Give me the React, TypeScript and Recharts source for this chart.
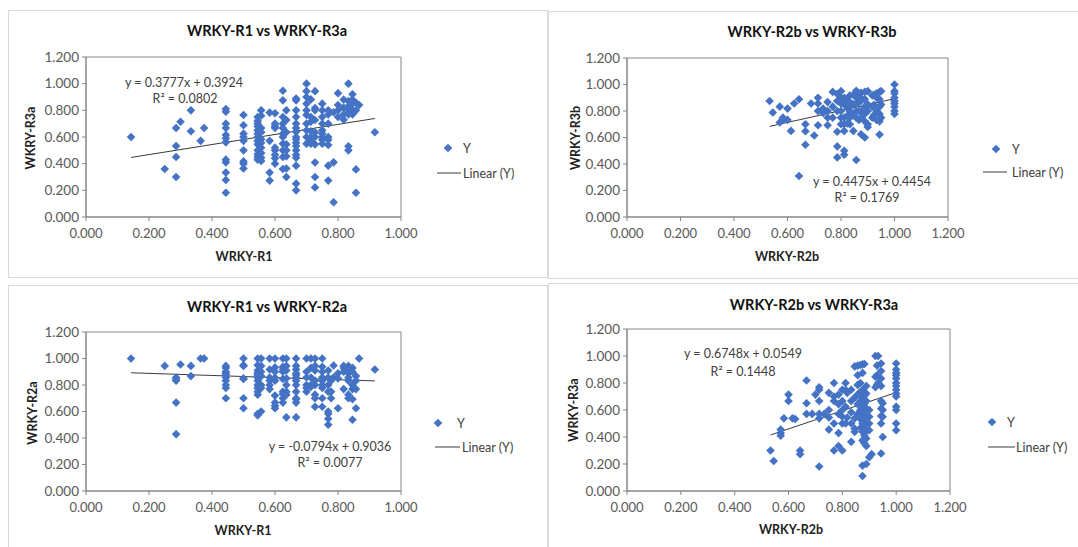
import React from 'react';
import { ScatterChart, Scatter, XAxis, YAxis, ReferenceLine, ReferenceArea } from 'recharts';

const FONT = "Lato, 'Liberation Sans', Arial, sans-serif";
const BLUE = '#4472C4';

// tick labels
const xTicksR1 = [0, 0.2, 0.4, 0.6, 0.8, 1.0];
const xTicksR2b = [0, 0.2, 0.4, 0.6, 0.8, 1.0, 1.2];
const yTicks = [0, 0.2, 0.4, 0.6, 0.8, 1.0, 1.2];

// chart text
const titles = ['WRKY-R1 vs WRKY-R3a', 'WRKY-R2b vs WRKY-R3b', 'WRKY-R1 vs WRKY-R2a', 'WRKY-R2b vs WRKY-R3a'];
const xLabels = ['WRKY-R1', 'WRKY-R2b', 'WRKY-R1', 'WRKY-R2b'];
const yLabels = ['WKRY-R3a', 'WRKY-R3b', 'WRKY-R2a', 'WRKY-R3a'];

// linear trend lines
const slopes = [0.3777, 0.4475, -0.0794, 0.6748];
const intercepts = [0.3924, 0.4454, 0.9036, 0.0549];
const r2Values = ['0.0802', '0.1769', '0.0077', '0.1448'];

type Col = [number, number[]];

// x value -> y values
const r1VsR3a: Col[] = [
  [0.143, [0.6]],
  [0.25, [0.36]],
  [0.286, [0.667, 0.533, 0.45, 0.3]],
  [0.3, [0.714]],
  [0.333, [0.8, 0.643]],
  [0.364, [0.571]],
  [0.375, [0.667]],
  [0.444, [0.81, 0.79, 0.7, 0.667, 0.615, 0.59, 0.56, 0.43, 0.41, 0.333, 0.278, 0.182]],
  [0.5, [0.765, 0.688, 0.625, 0.6, 0.571, 0.5, 0.417, 0.4, 0.364]],
  [0.545, [0.75, 0.72, 0.7, 0.68, 0.65, 0.625, 0.6, 0.571, 0.545, 0.5, 0.47, 0.45, 0.43]],
  [0.556, [0.8, 0.76, 0.667, 0.636, 0.583, 0.556, 0.52, 0.48, 0.444, 0.42]],
  [0.583, [0.783, 0.571, 0.333, 0.273]],
  [0.6, [0.778, 0.7, 0.68, 0.667, 0.52, 0.5, 0.467, 0.44, 0.4]],
  [0.625, [0.947, 0.875, 0.75, 0.7, 0.667, 0.625, 0.6, 0.55, 0.5, 0.45, 0.36]],
  [0.636, [0.8, 0.727, 0.636, 0.545, 0.5, 0.455, 0.364, 0.3]],
  [0.667, [0.889, 0.875, 0.8, 0.75, 0.7, 0.667, 0.64, 0.6, 0.583, 0.556, 0.533, 0.5, 0.467, 0.444, 0.385, 0.25, 0.2]],
  [0.7, [1.0, 0.944, 0.9, 0.85, 0.8, 0.765, 0.7, 0.65, 0.6, 0.55]],
  [0.714, [0.882, 0.75, 0.714, 0.643, 0.6, 0.571, 0.55]],
  [0.727, [0.944, 0.818, 0.8, 0.727, 0.636, 0.6, 0.545, 0.409, 0.3, 0.222]],
  [0.75, [0.85, 0.8, 0.75, 0.7, 0.65, 0.625, 0.6, 0.58, 0.55]],
  [0.769, [0.8, 0.77, 0.7, 0.6, 0.58, 0.54, 0.385, 0.273]],
  [0.786, [0.786, 0.41, 0.111]],
  [0.8, [0.929, 0.84, 0.8, 0.75]],
  [0.818, [0.88, 0.82, 0.77, 0.73]],
  [0.833, [1.0, 0.87, 0.83, 0.8, 0.77, 0.53, 0.5]],
  [0.846, [0.92, 0.88, 0.85, 0.8, 0.77]],
  [0.857, [0.857, 0.8, 0.357, 0.182]],
  [0.867, [0.84]],
  [0.917, [0.636]],
];

const r2bVsR3b: Col[] = [
  [0.533, [0.875]],
  [0.545, [0.789]],
  [0.571, [0.833, 0.714]],
  [0.583, [0.75, 0.733]],
  [0.6, [0.818, 0.733]],
  [0.613, [0.65]],
  [0.625, [0.857]],
  [0.643, [0.889, 0.31]],
  [0.667, [0.7, 0.647, 0.545]],
  [0.688, [0.857]],
  [0.7, [0.615]],
  [0.714, [0.9, 0.857, 0.8, 0.692]],
  [0.733, [0.818, 0.786]],
  [0.75, [0.867, 0.8, 0.75, 0.692]],
  [0.769, [0.944, 0.833, 0.75]],
  [0.786, [0.929, 0.875, 0.8, 0.643, 0.533, 0.45]],
  [0.8, [0.95, 0.9, 0.857, 0.8, 0.75, 0.7]],
  [0.812, [0.9, 0.85, 0.75, 0.7, 0.65, 0.5, 0.47]],
  [0.824, [0.882, 0.824, 0.765, 0.706]],
  [0.833, [0.917, 0.867, 0.833, 0.8, 0.75, 0.7]],
  [0.846, [0.923, 0.85, 0.769, 0.65]],
  [0.857, [0.952, 0.9, 0.857, 0.8, 0.75, 0.43]],
  [0.867, [0.933, 0.867, 0.8, 0.733]],
  [0.875, [0.938, 0.9, 0.875, 0.8, 0.75, 0.625]],
  [0.889, [0.944, 0.889, 0.833, 0.778, 0.722, 0.6]],
  [0.9, [0.95, 0.85, 0.8, 0.7, 0.68]],
  [0.917, [0.917, 0.833, 0.75]],
  [0.923, [0.923, 0.846, 0.769]],
  [0.933, [0.933, 0.9, 0.8, 0.733]],
  [0.944, [0.944, 0.889, 0.833, 0.778, 0.722, 0.622]],
  [0.95, [0.95, 0.85, 0.75]],
  [1.0, [1.0, 0.95, 0.933, 0.9, 0.875, 0.857, 0.833, 0.8, 0.778]],
];

const r1VsR2a: Col[] = [
  [0.143, [1.0]],
  [0.25, [0.944]],
  [0.286, [0.857, 0.846, 0.833, 0.667, 0.429]],
  [0.3, [0.955]],
  [0.333, [0.944, 0.867]],
  [0.364, [1.0]],
  [0.375, [1.0]],
  [0.444, [0.944, 0.929, 0.9, 0.889, 0.875, 0.857, 0.833, 0.8, 0.778, 0.7]],
  [0.5, [1.0, 0.95, 0.944, 0.85, 0.846, 0.7, 0.625]],
  [0.545, [1.0, 0.95, 0.909, 0.889, 0.875, 0.857, 0.833, 0.8, 0.778, 0.75, 0.727, 0.583, 0.571]],
  [0.556, [1.0, 0.944, 0.9, 0.867, 0.8, 0.778, 0.6]],
  [0.583, [1.0, 0.917, 0.857, 0.833, 0.8, 0.769]],
  [0.6, [1.0, 0.933, 0.9, 0.857, 0.833, 0.72, 0.667, 0.643, 0.625]],
  [0.625, [1.0, 0.938, 0.917, 0.9, 0.846, 0.75, 0.733, 0.7, 0.667]],
  [0.636, [1.0, 0.944, 0.909, 0.85, 0.8, 0.75, 0.727, 0.556]],
  [0.667, [1.0, 0.944, 0.917, 0.889, 0.875, 0.857, 0.833, 0.8, 0.75, 0.7, 0.692, 0.667, 0.556]],
  [0.7, [1.0, 0.9, 0.857, 0.8, 0.778, 0.75]],
  [0.714, [1.0, 0.929, 0.857, 0.8, 0.786]],
  [0.727, [1.0, 0.944, 0.909, 0.833, 0.8, 0.727, 0.7, 0.636]],
  [0.75, [1.0, 0.938, 0.9, 0.857, 0.833, 0.8, 0.778, 0.7, 0.636]],
  [0.769, [0.909, 0.857, 0.8, 0.75, 0.6, 0.583, 0.545, 0.5]],
  [0.778, [0.833, 0.75, 0.7]],
  [0.786, [0.947, 0.857]],
  [0.8, [0.889, 0.85, 0.625]],
  [0.818, [0.944, 0.929, 0.9, 0.769]],
  [0.833, [0.944, 0.917, 0.889, 0.857, 0.833, 0.727, 0.7]],
  [0.846, [0.929, 0.9, 0.8, 0.769, 0.692, 0.538]],
  [0.857, [0.867, 0.833, 0.769, 0.625]],
  [0.867, [1.0]],
  [0.917, [0.917]],
];

const r2bVsR3a: Col[] = [
  [0.533, [0.3]],
  [0.545, [0.222]],
  [0.571, [0.455, 0.429, 0.409]],
  [0.583, [0.538]],
  [0.6, [0.714, 0.667]],
  [0.615, [0.538]],
  [0.625, [0.533]],
  [0.643, [0.3, 0.273]],
  [0.667, [0.818, 0.65, 0.571]],
  [0.688, [0.571]],
  [0.7, [0.714]],
  [0.714, [0.769, 0.75, 0.667, 0.571, 0.538, 0.182]],
  [0.733, [0.571]],
  [0.75, [0.727, 0.6, 0.545, 0.455]],
  [0.769, [0.8, 0.7, 0.667, 0.5, 0.3]],
  [0.786, [0.714, 0.643, 0.571, 0.429, 0.333]],
  [0.8, [0.75, 0.667, 0.6, 0.55, 0.5, 0.3]],
  [0.812, [0.8, 0.75, 0.625, 0.5]],
  [0.818, [0.727, 0.545]],
  [0.833, [0.75, 0.667, 0.583, 0.5, 0.364]],
  [0.846, [0.923, 0.692, 0.538, 0.462, 0.438]],
  [0.857, [0.929, 0.857, 0.786, 0.714, 0.643, 0.571]],
  [0.867, [0.933, 0.8, 0.733, 0.667, 0.6, 0.533, 0.467]],
  [0.875, [0.938, 0.875, 0.75, 0.688, 0.625, 0.563, 0.5, 0.438, 0.375, 0.188, 0.111]],
  [0.882, [0.941, 0.706, 0.647, 0.588, 0.529, 0.471, 0.412, 0.353]],
  [0.889, [0.778, 0.722, 0.667, 0.611, 0.556, 0.5, 0.444, 0.389, 0.333, 0.2]],
  [0.9, [0.6, 0.55, 0.5, 0.45, 0.25]],
  [0.909, [0.273]],
  [0.923, [1.0, 0.846, 0.769]],
  [0.929, [0.929, 0.857, 0.786]],
  [0.933, [1.0, 0.8]],
  [0.944, [0.944, 0.889, 0.833, 0.778, 0.667, 0.611, 0.556, 0.5, 0.278]],
  [0.95, [0.65, 0.6, 0.55, 0.4]],
  [1.0, [0.944, 0.9, 0.875, 0.857, 0.833, 0.8, 0.778, 0.75, 0.722, 0.7, 0.625, 0.6, 0.5, 0.45]],
];

type Layout = {
  left: number; top: number; w: number; h: number;
  plot: { l: number; t: number; r: number; b: number };
  title: [number, number]; yTitle: [number, number]; xTitle: [number, number];
  eq: [number, number]; r2: [number, number];
  legend: { dx: number; dy: number; ytx: number; lx1: number; lx2: number; ly: number; ltx: number };
};

const layouts: Layout[] = [
  {
    left: 8, top: 10, w: 540, h: 268,
    plot: { l: 78, t: 47, r: 393, b: 207 },
    title: [259, 20], yTitle: [22, 128], xTitle: [236, 246],
    eq: [176, 72], r2: [177, 88],
    legend: { dx: 440, dy: 138, ytx: 455, lx1: 429, lx2: 453, ly: 163, ltx: 455 },
  },
  {
    left: 548, top: 11, w: 540, h: 268,
    plot: { l: 79, t: 47, r: 400, b: 206 },
    title: [264, 20], yTitle: [27, 127], xTitle: [239, 245],
    eq: [324, 170], r2: [319, 186],
    legend: { dx: 448, dy: 138, ytx: 464, lx1: 435, lx2: 459, ly: 161, ltx: 464 },
  },
  {
    left: 8, top: 285, w: 540, h: 270,
    plot: { l: 78, t: 47, r: 393, b: 206 },
    title: [259, 21], yTitle: [24, 128], xTitle: [235, 245],
    eq: [322, 161], r2: [322, 177],
    legend: { dx: 430, dy: 138, ytx: 449, lx1: 427, lx2: 452, ly: 162, ltx: 454 },
  },
  {
    left: 548, top: 283, w: 540, h: 270,
    plot: { l: 79, t: 46, r: 402, b: 208 },
    title: [266, 21], yTitle: [25, 127], xTitle: [243, 246],
    eq: [195, 70], r2: [195, 88],
    legend: { dx: 444, dy: 139, ytx: 459, lx1: 440, lx2: 467, ly: 164, ltx: 468 },
  },
];

const DiamondShape = (props: any) => {
  const { cx, cy } = props;
  if (cx == null || cy == null) return null;
  const r = 4.3;
  return (
    <polygon
      points={`${cx},${cy - r} ${cx + r},${cy} ${cx},${cy + r} ${cx - r},${cy}`}
      fill={BLUE}
    />
  );
};

const centered = (x: number, y: number, extra: React.CSSProperties = {}): React.CSSProperties => ({
  position: 'absolute', left: x, top: y, transform: 'translate(-50%, -50%)', whiteSpace: 'nowrap', ...extra,
});

function Panel(props: {
  idx: number; cols: Col[]; xTicks: number[];
}) {
  const { idx, cols, xTicks } = props;
  const L = layouts[idx];
  const data = cols.flatMap(([x, ys]) => ys.map((y) => ({ x, y })));
  const xs = data.map((d) => d.x);
  const xa = Math.min(...xs);
  const xb = Math.max(...xs);
  const m = slopes[idx];
  const c = intercepts[idx];
  const xMax = xTicks[xTicks.length - 1];
  const XH = 28;
  const eqText = `y = ${m < 0 ? '-' : ''}${Math.abs(m).toFixed(4)}x + ${c.toFixed(4)}`;
  const fmt = (v: number) => v.toFixed(3);

  return (
    <div style={{ position: 'absolute', left: L.left, top: L.top, width: L.w, height: L.h, fontFamily: FONT, background: '#fff' }}>
      <div style={{ position: 'absolute', inset: 0, border: '1px solid #d9d9d9', pointerEvents: 'none' }} />
      <ScatterChart
        width={L.w}
        height={L.h}
        margin={{ top: L.plot.t, left: 0, right: L.w - L.plot.r, bottom: L.h - L.plot.b - XH }}
      >
        <XAxis
          type="number"
          dataKey="x"
          domain={[0, xMax]}
          ticks={xTicks}
          tickFormatter={fmt}
          height={XH}
          tickSize={4}
          tickMargin={8}
          interval={0}
          allowDataOverflow
          axisLine={{ stroke: '#868686' }}
          tickLine={{ stroke: '#868686' }}
          tick={{ fill: '#595959', fontSize: 13, fontFamily: FONT }}
        />
        <YAxis
          type="number"
          dataKey="y"
          domain={[0, 1.2]}
          ticks={yTicks}
          tickFormatter={fmt}
          width={L.plot.l}
          tickSize={4}
          tickMargin={3}
          interval={0}
          allowDataOverflow
          axisLine={{ stroke: '#868686' }}
          tickLine={{ stroke: '#868686' }}
          tick={{ fill: '#595959', fontSize: 13.5, fontFamily: FONT }}
        />
        <ReferenceArea x1={0} x2={xMax} y1={0} y2={1.2} fill="none" stroke="#868686" strokeWidth={1} ifOverflow="visible" />
        <Scatter data={data} shape={DiamondShape} isAnimationActive={false} />
        <ReferenceLine
          segment={[{ x: xa, y: m * xa + c }, { x: xb, y: m * xb + c }]}
          stroke="#3a3a3a"
          strokeWidth={1}
          ifOverflow="visible"
        />
      </ScatterChart>
      <div style={centered(L.title[0], L.title[1], { fontWeight: 700, fontSize: 14.5, color: '#111' })}>{titles[idx]}</div>
      <div style={centered(L.xTitle[0], L.xTitle[1], { fontWeight: 700, fontSize: 12.5, color: '#222' })}>{xLabels[idx]}</div>
      <div style={centered(L.yTitle[0], L.yTitle[1], { fontWeight: 700, fontSize: 12.5, color: '#222', transform: 'translate(-50%, -50%) rotate(-90deg)' })}>{yLabels[idx]}</div>
      <div style={centered(L.eq[0], L.eq[1], { fontSize: 12.5, color: '#404040' })}>{eqText}</div>
      <div style={centered(L.r2[0], L.r2[1], { fontSize: 12.5, color: '#404040' })}>{`R² = ${r2Values[idx]}`}</div>
      <svg style={{ position: 'absolute', left: 0, top: 0, overflow: 'visible' }} width={1} height={1}>
        <polygon
          points={`${L.legend.dx},${L.legend.dy - 4.3} ${L.legend.dx + 4.3},${L.legend.dy} ${L.legend.dx},${L.legend.dy + 4.3} ${L.legend.dx - 4.3},${L.legend.dy}`}
          fill={BLUE}
        />
        <line x1={L.legend.lx1} x2={L.legend.lx2} y1={L.legend.ly} y2={L.legend.ly} stroke="#3a3a3a" strokeWidth={1} />
      </svg>
      <div style={{ position: 'absolute', left: L.legend.ytx, top: L.legend.dy, transform: 'translateY(-50%)', fontSize: 12.5, color: '#404040' }}>Y</div>
      <div style={{ position: 'absolute', left: L.legend.ltx, top: L.legend.ly, transform: 'translateY(-50%)', fontSize: 12.5, color: '#404040', whiteSpace: 'nowrap' }}>Linear (Y)</div>
    </div>
  );
}

export default function App() {
  return (
    <div style={{ position: 'absolute', left: 0, top: 0, width: 1078, height: 547, background: '#fff', overflow: 'hidden' }}>
      <Panel idx={0} cols={r1VsR3a} xTicks={xTicksR1} />
      <Panel idx={1} cols={r2bVsR3b} xTicks={xTicksR2b} />
      <Panel idx={2} cols={r1VsR2a} xTicks={xTicksR1} />
      <Panel idx={3} cols={r2bVsR3a} xTicks={xTicksR2b} />
    </div>
  );
}
